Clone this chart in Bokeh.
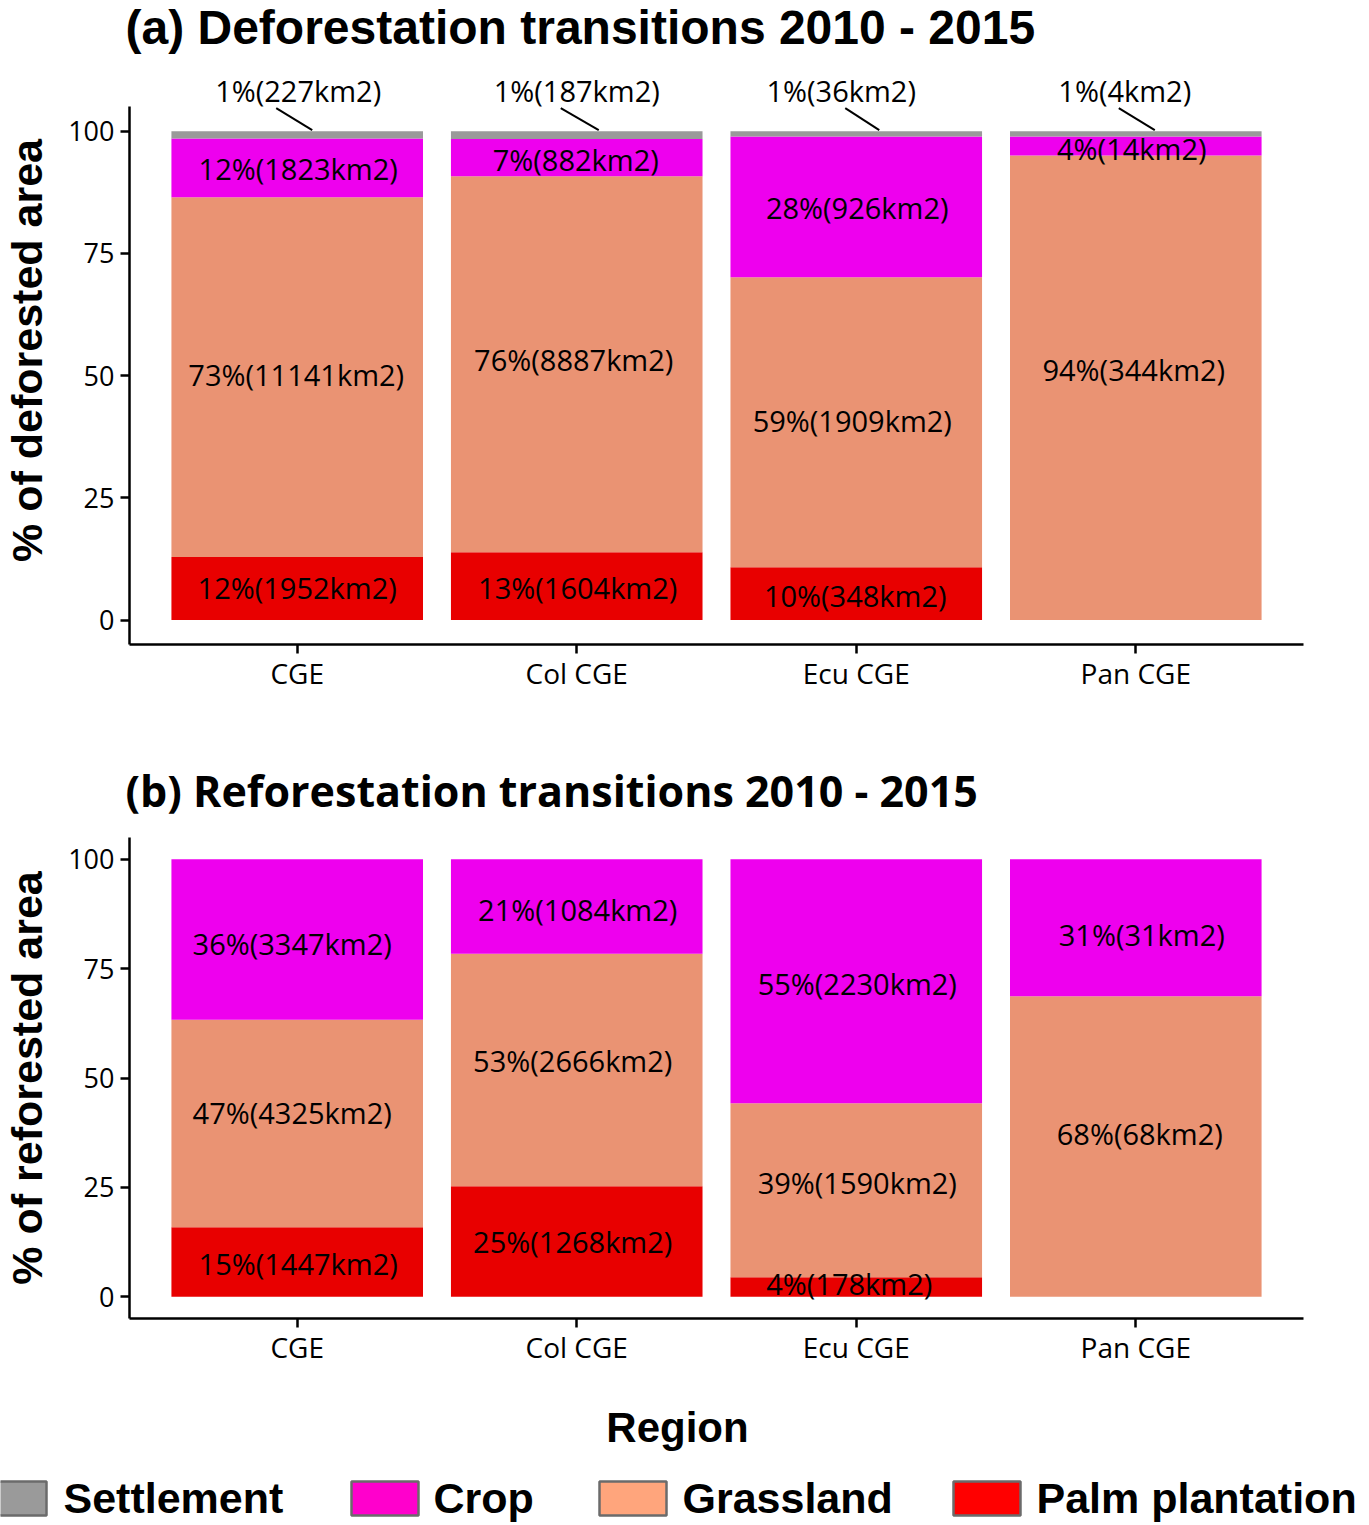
import numpy as np
from bokeh.plotting import figure
from bokeh.models import Range1d, FixedTicker
from bokeh.layouts import column
from bokeh.embed import file_html
from bokeh.resources import INLINE
from bokeh.core.properties import value

# ---------------- data ----------------
regions = ["CGE", "Col CGE", "Ecu CGE", "Pan CGE"]
classes = ["Settlement", "Crop", "Grassland", "Palm plantation"]

# (a) Deforestation transitions 2010 - 2015 (km2 and printed %)
defo_settlement_km2 = [227, 187, 36, 4]
defo_crop_km2 = [1823, 882, 926, 14]
defo_grass_km2 = [11141, 8887, 1909, 344]
defo_palm_km2 = [1952, 1604, 348, 0]
defo_settlement_pct = [1, 1, 1, 1]
defo_crop_pct = [12, 7, 28, 4]
defo_grass_pct = [73, 76, 59, 94]
defo_palm_pct = [12, 13, 10, None]

# (b) Reforestation transitions 2010 - 2015
refo_crop_km2 = [3347, 1084, 2230, 31]
refo_grass_km2 = [4325, 2666, 1590, 68]
refo_palm_km2 = [1447, 1268, 178, 0]
refo_crop_pct = [36, 21, 55, 31]
refo_grass_pct = [47, 53, 39, 68]
refo_palm_pct = [15, 25, 4, None]

y_ticks = [0, 25, 50, 75, 100]
title_a = "(a) Deforestation transitions 2010 - 2015"
title_b = "(b) Reforestation transitions 2010 - 2015"
ylabel_a = "% of deforested area"
ylabel_b = "% of reforested area"
xlabel = "Region"

# ---------------- style ----------------
bar_colors = {"Settlement": "#9a9a9a", "Crop": "#ee00ee",
              "Grassland": "#ea9373", "Palm plantation": "#e80000"}
legend_colors = ["#9a9a9a", "#ff00cc", "#ffa57c", "#ff0000"]
FW = 1369
LEFT, RIGHT = 129, 66
XR = (0.4, 4.6)
ppx = (FW - LEFT - RIGHT) / (XR[1] - XR[0])


def labels_of(pcts, km2):
    return [None if p is None else f"{p}%({k}km2)" for p, k in zip(pcts, km2)]


def shares(*layers):
    tot = np.sum(np.array(layers, dtype=float), axis=0)
    return [list(np.array(l, dtype=float) / tot * 100.0) for l in layers]


def blank(height):
    p = figure(width=FW, height=height, x_range=Range1d(0, FW), y_range=Range1d(0, height),
               x_axis_location=None, y_axis_location=None, output_backend="svg",
               toolbar_location=None, min_border=0, title=None)
    p.frame_align = False
    p.outline_line_color = None
    p.grid.visible = False
    return p


def make_panel(height, top, bottom, yr, ylabel, layers, offsets):
    p = figure(width=FW, height=height, x_range=Range1d(*XR), y_range=Range1d(*yr),
               output_backend="svg", toolbar_location=None,
               min_border_left=LEFT, min_border_right=RIGHT,
               min_border_top=top, min_border_bottom=bottom)
    ppu = (height - top - bottom) / (yr[1] - yr[0])
    p.outline_line_color = None
    p.grid.visible = False

    for ax in (p.xaxis[0], p.yaxis[0]):
        ax.axis_line_width = 2.5
        ax.axis_line_color = "black"
        ax.major_tick_line_width = 2.5
        ax.major_tick_line_color = "black"
        ax.major_tick_out = 9
        ax.major_tick_in = 0
        ax.minor_tick_line_color = None
        ax.major_label_text_color = "black"
        ax.major_label_text_font = "Open Sans"
    p.xaxis.ticker = FixedTicker(ticks=[1, 2, 3, 4])
    p.xaxis.major_label_overrides = {i + 1: r for i, r in enumerate(regions)}
    p.xaxis.major_label_text_font_size = "28px"
    p.xaxis.major_label_standoff = 0
    p.yaxis.ticker = FixedTicker(ticks=y_ticks)
    p.yaxis.bounds = (-5, 105)
    p.yaxis.major_label_text_font_size = "27px"
    p.yaxis.major_label_standoff = 6
    p.yaxis.axis_label = ylabel
    p.yaxis.axis_label_text_font = "Liberation Sans"
    p.yaxis.axis_label_text_font_style = "bold"
    p.yaxis.axis_label_text_font_size = "43px"
    p.yaxis.axis_label_text_color = "black"
    p.yaxis.axis_label_standoff = 14

    xs = np.arange(1, len(regions) + 1)
    bottom_v = np.zeros(len(regions))
    lx, ly, lt = [], [], []
    for (vals, color, labs), (dxs, dys) in zip(layers, offsets):
        topv = bottom_v + np.array(vals)
        p.vbar(x=xs, width=0.9, bottom=bottom_v, top=topv,
               fill_color=color, line_color=None)
        for i in range(len(regions)):
            if labs[i] is None:
                continue
            lx.append(xs[i] + dxs[i] / ppx)
            ly.append((bottom_v[i] + topv[i]) / 2 - dys[i] / ppu)
            lt.append(labs[i])
        bottom_v = topv
    p.text(x=lx, y=ly, text=lt, text_font=value("Open Sans"), text_font_size="29px",
           text_align="center", text_baseline="middle", text_color="black")
    return p, ppu


# ---------------- title (a) ----------------
pt = blank(56)
pt.text(x=[125], y=[29], text=[title_a], text_font=value("Liberation Sans"),
        text_font_style="bold", text_font_size="48px", text_align="left",
        text_baseline="middle", text_color="black")

# ---------------- panel (a) ----------------
sa = shares(defo_palm_km2, defo_grass_km2, defo_crop_km2, defo_settlement_km2)
layers_a = [
    (sa[0], bar_colors["Palm plantation"], labels_of(defo_palm_pct, defo_palm_km2)),
    (sa[1], bar_colors["Grassland"], labels_of(defo_grass_pct, defo_grass_km2)),
    (sa[2], bar_colors["Crop"], labels_of(defo_crop_pct, defo_crop_km2)),
    (sa[3], bar_colors["Settlement"], [None] * 4),
]
offs_a = [
    ([0, 1, -1, 0], [-1, 1.5, 2, 0]),
    ([-1, -3, -4, -2], [-3, -4.5, -1.5, -18]),
    ([1, -1, 1, -4], [1, 1.5, 1, 2]),
    ([0, 0, 0, 0], [0, 0, 0, 0]),
]
pa, ppu_a = make_panel(664, 0, 76, (-5, 115.27), ylabel_a, layers_a, offs_a)
pa.title.text = ""

# settlement labels above the bars with leader lines
set_dx = [1, 0, -15, -11]
seg_start_dx = [-21, -16, -11, -17]
seg_end_dx = [15, 22, 23, 19]
xs_a = np.arange(1, len(regions) + 1)
pa.text(x=[xs_a[i] + set_dx[i] / ppx for i in range(4)],
        y=[100 + 41 / ppu_a] * 4,
        text=labels_of(defo_settlement_pct, defo_settlement_km2),
        text_font=value("Open Sans"), text_font_size="29px",
        text_align="center", text_baseline="middle", text_color="black")
pa.segment(x0=[xs_a[i] + seg_start_dx[i] / ppx for i in range(4)],
           y0=[100 + 23 / ppu_a] * 4,
           x1=[xs_a[i] + seg_end_dx[i] / ppx for i in range(4)],
           y1=[100 + 1 / ppu_a] * 4, line_color="black", line_width=2)

# ---------------- panel (b) ----------------
sb = shares(refo_palm_km2, refo_grass_km2, refo_crop_km2)
layers_b = [
    (sb[0], bar_colors["Palm plantation"], labels_of(refo_palm_pct, refo_palm_km2)),
    (sb[1], bar_colors["Grassland"], labels_of(refo_grass_pct, refo_grass_km2)),
    (sb[2], bar_colors["Crop"], labels_of(refo_crop_pct, refo_crop_km2)),
]
offs_b = [
    ([1, -4, -7, 0], [2, 0, -3, 0]),
    ([-5, -4, 1, 4], [-11, -9, -8, -13]),
    ([-5, 1, 1, 6], [4, 3, 2, 7]),
]
pb, ppu_b = make_panel(675, 117, 77, (-5, 105), ylabel_b, layers_b, offs_b)
pb.title.text = title_b
pb.title.text_font = "Open Sans"
pb.title.text_font_style = "bold"
pb.title.text_font_size = "43px"
pb.title.align = "left"
pb.title.offset = -4
pb.title.standoff = 35
pb.title.text_color = "black"

# ---------------- x label + legend ----------------
pc = blank(130)
pc.text(x=[677], y=[98], text=[xlabel], text_font=value("Liberation Sans"),
        text_font_style="bold", text_font_size="42px", text_align="center",
        text_baseline="middle", text_color="black")
box_left = [-21, 351, 599, 953]
text_left = [63, 433, 682, 1036]
pc.quad(left=box_left, right=[b + 67 for b in box_left], top=[44] * 4, bottom=[10] * 4,
        fill_color=legend_colors, line_color="#6b6b6b", line_width=2.5)
pc.text(x=text_left, y=[28] * 4, text=classes,
        text_font=value("Liberation Sans"),
        text_font_style="bold", text_font_size="43px", text_align="left",
        text_baseline="middle", text_color="black")

layout = column(pt, pa, pb, pc, spacing=0)
open("out.html", "w").write(file_html(layout, INLINE))
